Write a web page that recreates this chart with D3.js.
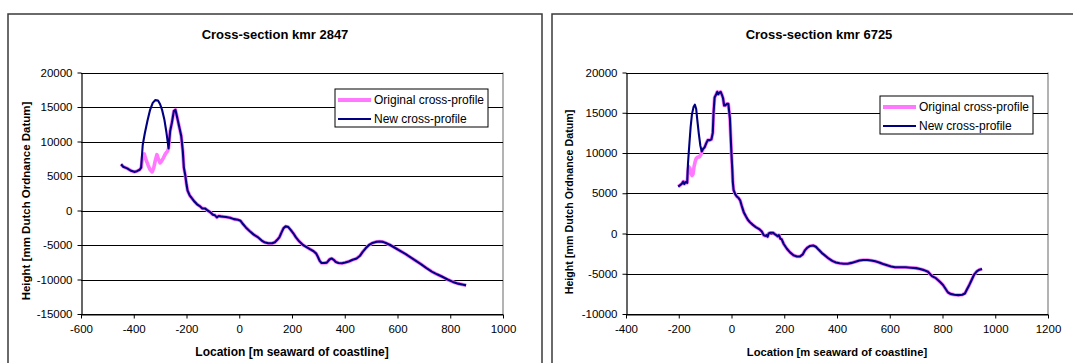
<!DOCTYPE html>
<html>
<head>
<meta charset="utf-8">
<script src="https://cdn.jsdelivr.net/npm/d3@7"></script>
<style>
  html, body { margin: 0; padding: 0; background: #fff; }
  svg { display: block; font-family: Arial, "Liberation Sans", sans-serif; }
</style>
</head>
<body>
<svg id="chart" width="1073" height="363"></svg>
<script>
// ---- Cross-section kmr 2847 : new profile (location m, height mm NAP) ----
const loc2847 = [-448,-440,-425,-410,-398,-388,-378,-372,-366,-358,-348,-338,-328,-318,-308,-300,-292,-284,-276,-268,
  -262,-255,-248,-242,-236,-228,-220,-214,-210,-205,-200,-196,-188,-180,-170,-160,-150,-140,-130,-120,
  -110,-100,-92,-85,-78,-70,-60,-50,-35,-20,-5,5,15,25,40,55,70,85,95,110,
  125,135,145,152,160,168,176,186,195,205,215,228,242,255,268,282,292,298,305,312,
  322,332,342,350,358,366,376,390,402,415,430,445,458,468,480,492,505,518,532,545,
  558,572,590,610,630,650,670,690,710,730,750,770,790,810,830,850,860];
const new2847 = [6700,6350,6100,5750,5600,5700,5900,6200,9500,11200,13000,14600,15600,16000,15950,15400,14500,13200,11300,9000,
  11500,12800,14400,14600,13600,12200,10800,8600,6200,5200,3800,2900,2200,1800,1300,900,650,300,300,0,
  -250,-600,-700,-1000,-800,-850,-900,-950,-1050,-1250,-1350,-1500,-2000,-2450,-3000,-3500,-3850,-4350,-4600,-4750,
  -4750,-4600,-4200,-3900,-3200,-2550,-2300,-2400,-2800,-3300,-3900,-4500,-5000,-5300,-5600,-5900,-6250,-6700,-7300,-7600,
  -7600,-7550,-7100,-6950,-7150,-7450,-7600,-7650,-7550,-7400,-7150,-6950,-6550,-6000,-5450,-5000,-4700,-4550,-4500,-4550,
  -4750,-5000,-5400,-5850,-6300,-6800,-7300,-7800,-8350,-8850,-9250,-9600,-10000,-10350,-10600,-10750,-10850];
// original profile differs only across the dune section
const dune2847Loc = [-372,-366,-360,-354,-346,-338,-330,-324,-318,-312,-306,-300,-294,-288,-280,-272,-268];
const dune2847Orig = [6200,7900,8200,7400,6600,5900,5600,6200,7300,8100,7400,6900,7200,7600,8200,8600,9000];

// ---- Cross-section kmr 6725 : new profile ----
const loc6725 = [-202,-195,-188,-183,-179,-174,-168,-165,-160,-155,-150,-144,-139,-134,-130,-124,-118,-113,-108,-102,
  -96,-90,-82,-76,-71,-68,-64,-58,-54,-50,-46,-41,-36,-32,-28,-24,-18,-12,-9,-6,
  -3,0,3,5,8,14,20,27,33,40,47,55,62,70,80,92,105,115,122,128,
  133,137,141,148,157,165,170,175,180,185,190,198,210,222,235,248,260,270,278,288,
  298,310,320,330,342,355,368,382,396,410,425,440,455,470,485,500,515,530,545,560,
  575,590,605,620,640,660,680,700,715,730,745,760,775,790,802,812,820,830,845,860,
  875,885,892,900,910,920,930,940,950];
const new6725 = [5830,6000,6200,6450,6150,6400,6300,8700,11000,13200,14800,15700,16000,15500,14200,12400,10900,10200,10500,10700,
  11200,11600,11600,11700,12500,15000,16900,17300,17600,17300,17500,17600,17200,16800,15900,15900,16100,16100,15200,14300,
  12000,9800,8000,6400,5400,4900,4600,4400,4100,3300,2600,2100,1700,1400,1100,800,550,250,-200,-300,
  -200,-400,0,100,100,-100,-200,-350,-200,-650,-700,-1300,-1900,-2350,-2700,-2850,-2850,-2600,-2100,-1750,
  -1550,-1500,-1650,-2000,-2400,-2750,-3100,-3400,-3600,-3700,-3750,-3750,-3650,-3500,-3350,-3300,-3300,-3350,-3450,-3600,
  -3800,-3950,-4100,-4200,-4200,-4200,-4250,-4300,-4400,-4550,-4750,-5300,-5550,-6000,-6400,-6900,-7300,-7500,-7600,-7650,
  -7600,-7450,-7000,-6500,-5800,-5100,-4700,-4500,-4400];
const dune6725Loc = [-168,-165,-162,-158,-154,-150,-146,-142,-138,-134,-128,-122,-116,-110,-108];
const dune6725Orig = [6300,7800,8300,8100,7600,7200,7400,8300,8900,9300,9500,9500,9800,10300,10500];

// ---- axis ticks and labels ----
const xTicks2847 = [-600,-400,-200,0,200,400,600,800,1000];
const yTicks2847 = [-15000,-10000,-5000,0,5000,10000,15000,20000];
const xTicks6725 = [-400,-200,0,200,400,600,800,1000,1200];
const yTicks6725 = [-10000,-5000,0,5000,10000,15000,20000];
const seriesNames = ["Original cross-profile", "New cross-profile"];
const xTitle = "Location [m seaward of coastline]";
const yTitle = "Height [mm Dutch Ordnance Datum]";

const ORIG_COLOR = "#ff78ff";
const NEW_COLOR = "#000080";

function toPoints(xs, ys) { return xs.map((x, i) => ({ x, y: ys[i] })); }

// Original profile = new profile with the dune section replaced
function originalProfile(xs, ys, duneX, duneY) {
  const lo = duneX[0], hi = duneX[duneX.length - 1];
  const pts = [];
  xs.forEach((x, i) => { if (x < lo) pts.push({ x, y: ys[i] }); });
  duneX.forEach((x, i) => pts.push({ x, y: duneY[i] }));
  xs.forEach((x, i) => { if (x > hi) pts.push({ x, y: ys[i] }); });
  return pts;
}

// plain hyphen-minus for negative tick labels
const fmt = d => String(d);

const svg = d3.select("#chart");

function drawPanel(p) {
  const g = svg.append("g");

  // chart frame
  g.append("rect")
    .attr("x", p.frame[0]).attr("y", p.frame[1])
    .attr("width", p.frame[2]).attr("height", p.frame[3])
    .attr("fill", "#fff").attr("stroke", "#3a3a3a").attr("stroke-width", 1.5);

  const x = d3.scaleLinear().domain(p.xDomain).range([p.plot.left, p.plot.right]);
  const y = d3.scaleLinear().domain(p.yDomain).range([p.plot.bottom, p.plot.top]);

  // plot area border (right side grey)
  g.append("line")
    .attr("x1", p.plot.right).attr("x2", p.plot.right)
    .attr("y1", p.plot.top).attr("y2", p.plot.bottom)
    .attr("stroke", "#808080").attr("stroke-width", 1.2);

  // horizontal gridlines
  g.append("g").selectAll("line").data(p.yTicks).join("line")
    .attr("x1", p.plot.left).attr("x2", p.plot.right)
    .attr("y1", d => Math.round(y(d)) + 0.5).attr("y2", d => Math.round(y(d)) + 0.5)
    .attr("stroke", "#000").attr("stroke-width", 1);

  // axes
  const xAxis = d3.axisBottom(x).tickValues(p.xTicks).tickSize(4).tickSizeOuter(0).tickPadding(6)
    .tickFormat(fmt);
  const yAxis = d3.axisLeft(y).tickValues(p.yTicks).tickSize(4).tickSizeOuter(0).tickPadding(5)
    .tickFormat(fmt);

  const gx = g.append("g").attr("transform", `translate(0,${Math.round(p.plot.bottom) + 0.5})`).call(xAxis);
  const gy = g.append("g").attr("transform", `translate(${Math.round(p.plot.left) + 0.5},0)`).call(yAxis);
  [gx, gy].forEach(a => {
    a.select(".domain").attr("stroke", "#000").attr("stroke-width", 1.2);
    a.selectAll(".tick line").attr("stroke", "#000");
    a.selectAll(".tick text").attr("fill", "#000")
      .style("font-size", "11.5px").style("font-family", "Arial, 'Liberation Sans', sans-serif");
  });

  // profiles
  const line = d3.line().x(d => x(d.x)).y(d => y(d.y));
  g.append("path").datum(p.original).attr("d", line)
    .attr("fill", "none").attr("stroke", ORIG_COLOR).attr("stroke-width", 3.6)
    .attr("stroke-linejoin", "round");
  g.append("path").datum(p.newer).attr("d", line)
    .attr("fill", "none").attr("stroke", NEW_COLOR).attr("stroke-width", 2.1)
    .attr("stroke-linejoin", "round");

  // title
  g.append("text").attr("x", p.titlePos[0]).attr("y", p.titlePos[1])
    .attr("text-anchor", "middle").style("font-weight", "bold").style("font-size", "13px")
    .text(p.title);

  // axis titles
  g.append("text").attr("x", (p.plot.left + p.plot.right) / 2).attr("y", p.xTitleY)
    .attr("text-anchor", "middle").style("font-weight", "bold").style("font-size", p.xTitleFont)
    .text(xTitle);
  g.append("text")
    .attr("transform", `translate(${p.yTitleX},${p.yTitleCY}) rotate(-90)`)
    .attr("text-anchor", "middle").attr("dominant-baseline", "central")
    .style("font-weight", "bold").style("font-size", p.yTitleFont)
    .text(yTitle);

  // legend
  const L = p.legend;
  g.append("rect").attr("x", L.x).attr("y", L.y).attr("width", L.w).attr("height", L.h)
    .attr("fill", "#fff").attr("stroke", "#000").attr("stroke-width", 1);
  const rows = [
    { name: seriesNames[0], color: ORIG_COLOR, width: 4 },
    { name: seriesNames[1], color: NEW_COLOR, width: 2 }
  ];
  rows.forEach((r, i) => {
    const cy = L.y + 11 + i * 19;
    g.append("line").attr("x1", L.x + 3).attr("x2", L.x + 36)
      .attr("y1", cy).attr("y2", cy)
      .attr("stroke", r.color).attr("stroke-width", r.width);
    g.append("text").attr("x", L.x + 39).attr("y", cy)
      .attr("dominant-baseline", "central").style("font-size", "12px")
      .text(r.name);
  });
}

drawPanel({
  frame: [8, 14, 534, 360],
  plot: { left: 81, right: 503, top: 72.5, bottom: 314 },
  xDomain: [-600, 1000], yDomain: [-15000, 20000],
  xTicks: xTicks2847, yTicks: yTicks2847,
  title: "Cross-section kmr 2847", titlePos: [275, 38.5],
  xTitleY: 356, yTitleX: 26, yTitleCY: 201, xTitleFont: "12px", yTitleFont: "11.5px",
  legend: { x: 335, y: 89, w: 153, h: 38 },
  original: originalProfile(loc2847, new2847, dune2847Loc, dune2847Orig),
  newer: toPoints(loc2847, new2847)
});

drawPanel({
  frame: [552, 14, 534, 360],
  plot: { left: 626, right: 1048, top: 72.5, bottom: 314 },
  xDomain: [-400, 1200], yDomain: [-10000, 20000],
  xTicks: xTicks6725, yTicks: yTicks6725,
  title: "Cross-section kmr 6725", titlePos: [819, 38.5],
  xTitleY: 355.5, yTitleX: 569, yTitleCY: 202, xTitleFont: "11.2px", yTitleFont: "10.7px",
  legend: { x: 880, y: 96, w: 153, h: 38 },
  original: originalProfile(loc6725, new6725, dune6725Loc, dune6725Orig),
  newer: toPoints(loc6725, new6725)
});
</script>
</body>
</html>
